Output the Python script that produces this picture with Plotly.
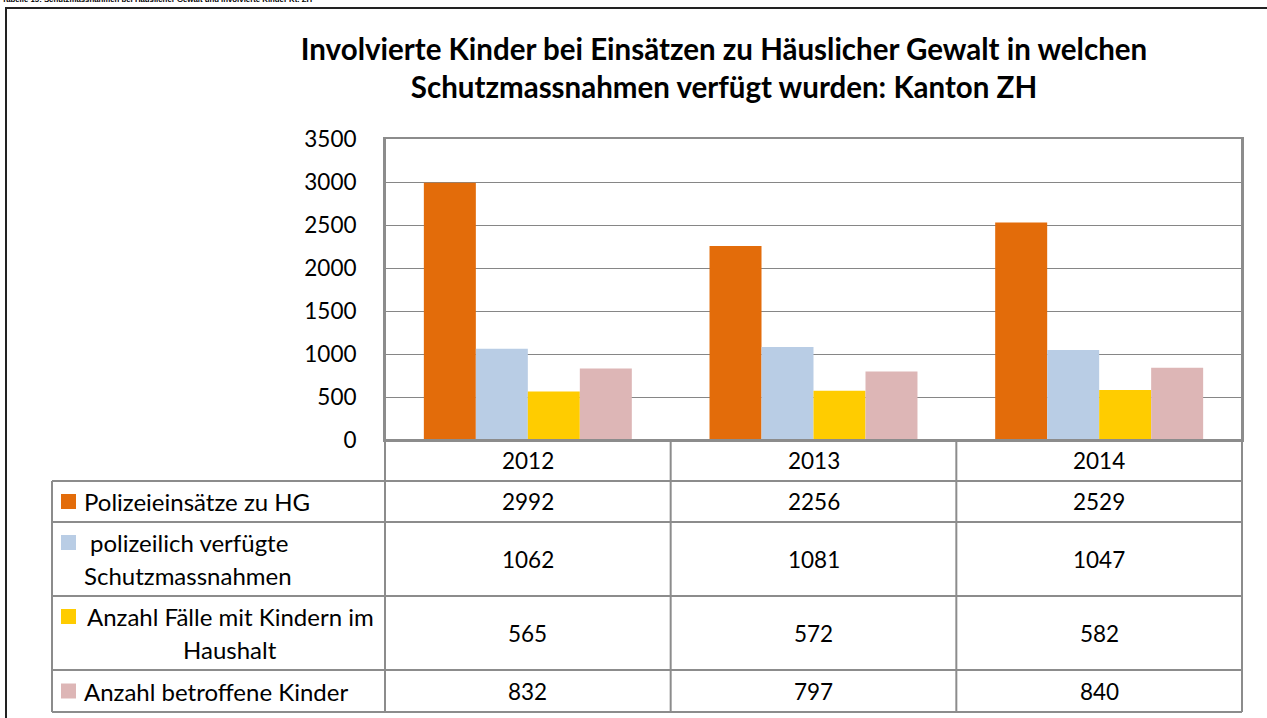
import plotly.graph_objects as go

# ===============================
# DATA
# ===============================
years = ["2012", "2013", "2014"]
series_names = [
    "Polizeieinsätze zu HG",
    " polizeilich verfügte<br>Schutzmassnahmen",
    "Anzahl Fälle mit Kindern im<br>Haushalt",
    "Anzahl betroffene Kinder",
]
polizeieinsaetze = [2992, 2256, 2529]
schutzmassnahmen = [1062, 1081, 1047]
faelle_mit_kindern = [565, 572, 582]
betroffene_kinder = [832, 797, 840]
y_ticks = [0, 500, 1000, 1500, 2000, 2500, 3000, 3500]

title_text = ("Involvierte Kinder bei Einsätzen zu Häuslicher Gewalt in welchen<br>"
              "Schutzmassnahmen verfügt wurden: Kanton ZH")
caption_text = "Tabelle 15: Schutzmassnahmen bei Häuslicher Gewalt und involvierte Kinder Kt. ZH"

# ===============================
# STYLE / LAYOUT
# ===============================
COLORS = ["#E36C0A", "#B9CDE5", "#FFCC00", "#DDB6B6"]
FONT = "Lato"
GRID = "#868686"
TABLE_LINE = "#8c8c8c"
NUM_SIZE = 22.5
TXT_SIZE = 24

W, H = 1267, 718
PX0, PX1, PY0, PY1 = 385, 1242, 139, 440   # plot area in pixels


def px(x):
    return (x - PX0) / (PX1 - PX0)


def py(y):
    return (PY1 - y) / (PY1 - PY0)


# table geometry (pixels)
LEG_X0 = 52
ROW_LINES = [481, 522, 596, 670, 712]
HEADER_MID = 460
LINE_STEP = 33
ROW_ALIGN = ["left", "left", "center", "left"]

all_series = [polizeieinsaetze, schutzmassnahmen, faelle_mit_kindern, betroffene_kinder]

fig = go.Figure()

for name, vals, color in zip(series_names, all_series, COLORS):
    fig.add_trace(go.Bar(
        x=years,
        y=vals,
        name=name.replace("<br>", " "),
        marker=dict(color=color, line=dict(width=0)),
        showlegend=False,
    ))

shapes = []
annotations = []


def label(x, y, text, size, xref="paper", xanchor="center", family=FONT):
    return dict(x=x, y=y, xref=xref, yref="paper", xanchor=xanchor, yanchor="middle",
                text=text, showarrow=False,
                font=dict(family=family, size=size, color="#000"))


# outer frame
shapes.append(dict(type="rect", xref="paper", yref="paper",
                   x0=px(6), x1=px(1275), y0=py(8), y1=py(730),
                   line=dict(color="#222222", width=2)))

# table horizontal lines
shapes.append(dict(type="line", xref="paper", yref="paper",
                   x0=px(PX0), x1=px(PX1), y0=py(PY1), y1=py(PY1),
                   line=dict(color=TABLE_LINE, width=2)))
for yl in ROW_LINES:
    shapes.append(dict(type="line", xref="paper", yref="paper",
                       x0=px(LEG_X0), x1=px(PX1), y0=py(yl), y1=py(yl),
                       line=dict(color=TABLE_LINE, width=2)))

# table vertical lines
shapes.append(dict(type="line", xref="paper", yref="paper",
                   x0=px(LEG_X0), x1=px(LEG_X0), y0=py(ROW_LINES[0]), y1=py(ROW_LINES[-1]),
                   line=dict(color=TABLE_LINE, width=2)))
for xl in [px(PX0), px(PX1)]:
    shapes.append(dict(type="line", xref="paper", yref="paper",
                       x0=xl, x1=xl, y0=py(PY0), y1=py(ROW_LINES[-1]),
                       line=dict(color=TABLE_LINE, width=2)))
for i in range(1, len(years)):
    shapes.append(dict(type="line", xref="x", yref="paper",
                       x0=i - 0.5, x1=i - 0.5, y0=py(PY1), y1=py(ROW_LINES[-1]),
                       line=dict(color=TABLE_LINE, width=2)))

# year header (category index on the x axis)
for i, yr in enumerate(years):
    annotations.append(label(i, py(HEADER_MID), yr, NUM_SIZE, xref="x"))

# table rows
for r, (name, vals, color) in enumerate(zip(series_names, all_series, COLORS)):
    top, bot = ROW_LINES[r], ROW_LINES[r + 1]
    mid = (top + bot) / 2
    lines = name.split("<br>")
    first = mid - (len(lines) - 1) * LINE_STEP / 2
    # colour key
    shapes.append(dict(type="rect", xref="paper", yref="paper",
                       x0=px(61), x1=px(76), y0=py(first - 7.5), y1=py(first + 7.5),
                       fillcolor=color, line=dict(width=0)))
    for k, ln in enumerate(lines):
        yy = first + k * LINE_STEP
        if ROW_ALIGN[r] == "center":
            annotations.append(label(px(230), py(yy), ln, TXT_SIZE))
        else:
            x0 = 88 if ln.startswith(" ") else 82
            annotations.append(label(px(x0), py(yy), ln.strip(), TXT_SIZE, xanchor="left"))
    for i, v in enumerate(vals):
        annotations.append(label(i, py(mid), str(v), NUM_SIZE, xref="x"))

# caption sitting above the frame, cut off by the top edge as in the source
annotations.append(dict(x=px(0), y=py(6), xref="paper", yref="paper",
                        xanchor="left", yanchor="bottom", text="<b>" + caption_text + "</b>",
                        showarrow=False,
                        font=dict(family="Liberation Sans", size=7.8, color="#000")))

fig.update_layout(
    width=W, height=H,
    margin=dict(l=PX0, r=W - PX1, t=PY0, b=H - PY1),
    paper_bgcolor="white",
    plot_bgcolor="white",
    barmode="group",
    bargap=0.272,
    bargroupgap=0,
    title=dict(text="<b>" + title_text + "</b>",
               x=724 / W, xanchor="center",
               y=1 - 59.5 / H, yanchor="middle", yref="container",
               font=dict(family=FONT, size=29.5, color="#000")),
    xaxis=dict(type="category", range=[-0.5, len(years) - 0.5],
               showticklabels=False, ticks="", showgrid=False,
               showline=True, linecolor=TABLE_LINE, linewidth=2, mirror=True),
    yaxis=dict(range=[0, 3500], tickvals=y_ticks, showgrid=True,
               gridcolor=GRID, gridwidth=1, zeroline=False,
               showline=True, linecolor=TABLE_LINE, linewidth=2, mirror=True,
               ticks="", ticklabelstandoff=22,
               tickfont=dict(family=FONT, size=NUM_SIZE, color="#000")),
    shapes=shapes,
    annotations=annotations,
)

# drop the default page margin so the figure sits at the window origin
fig.write_html("out.html", config={"displayModeBar": False},
               post_script="document.body.style.margin='0';")
